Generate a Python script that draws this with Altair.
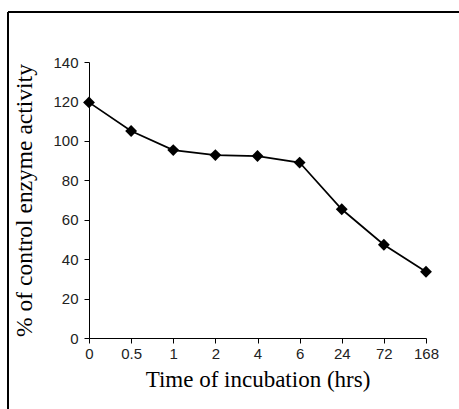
import altair as alt
import pandas as pd

times = ["0", "0.5", "1", "2", "4", "6", "24", "72", "168"]
activity = [119.5, 105, 95.3, 92.8, 92.3, 89, 65.3, 47.3, 33.6]
errors = [1.5, 1.5, 1.2, 1.0, 1.0, 1.5, 1.5, 1.2, 1.5]
yticks = [0, 20, 40, 60, 80, 100, 120, 140]

df = pd.DataFrame({"time": times, "activity": activity, "err": errors})
df["lo"] = df["activity"] - df["err"]
df["hi"] = df["activity"] + df["err"]

xscale = alt.Scale(type="point", padding=0)
yscale = alt.Scale(domain=[0, 140], nice=False)

xaxis = alt.Axis(title="Time of incubation (hrs)", labelAngle=0,
                 labelFont="Liberation Sans", labelFontSize=15,
                 labelColor="#222", titleFont="Liberation Serif",
                 titleFontSize=23, titleFontWeight="normal",
                 titleColor="#000", titlePadding=7,
                 tickSize=5, labelPadding=3, labelOverlap=False,
                 domainColor="#000", tickColor="#000")
yaxis = alt.Axis(title="% of control enzyme activity", values=yticks,
                 labelFont="Liberation Sans", labelFontSize=15,
                 labelColor="#222", titleFont="Liberation Serif",
                 titleFontSize=23.5, titleFontWeight="normal",
                 titleColor="#000", titlePadding=16,
                 tickSize=5, labelPadding=6, labelOverlap=False,
                 labelFlush=False,
                 domainColor="#000", tickColor="#000", grid=False)

xenc = alt.X("time:N", sort=times, scale=xscale, axis=xaxis)
yenc = alt.Y("activity:Q", scale=yscale, axis=yaxis)

line = alt.Chart(df).mark_line(color="black", strokeWidth=1.7).encode(x=xenc, y=yenc)
errs = alt.Chart(df).mark_rule(color="black", strokeWidth=1.2).encode(
    x=xenc, y=alt.Y("lo:Q", scale=yscale, axis=yaxis), y2="hi:Q")
pts = alt.Chart(df).mark_point(shape="diamond", filled=True, color="black",
                                size=140, opacity=1).encode(x=xenc, y=yenc)

frame_left = alt.Chart(df).mark_rule(color="black", strokeWidth=1.5, clip=False).encode(
    x=alt.value(-81), y=alt.value(-50), y2=alt.value(350))
frame_top = alt.Chart(df).mark_rule(color="black", strokeWidth=1.5, clip=False).encode(
    x=alt.value(-81), x2=alt.value(372), y=alt.value(-50))

chart = alt.layer(line, errs, pts, frame_left, frame_top).properties(
    width=337, height=276,
    autosize=alt.AutoSizeParams(type="none"),
    padding={"left": 89, "top": 62, "right": 33, "bottom": 71},
    background="white",
).configure_view(stroke=None)

chart.save("out.html", embed_options={"renderer": "svg", "actions": False})
